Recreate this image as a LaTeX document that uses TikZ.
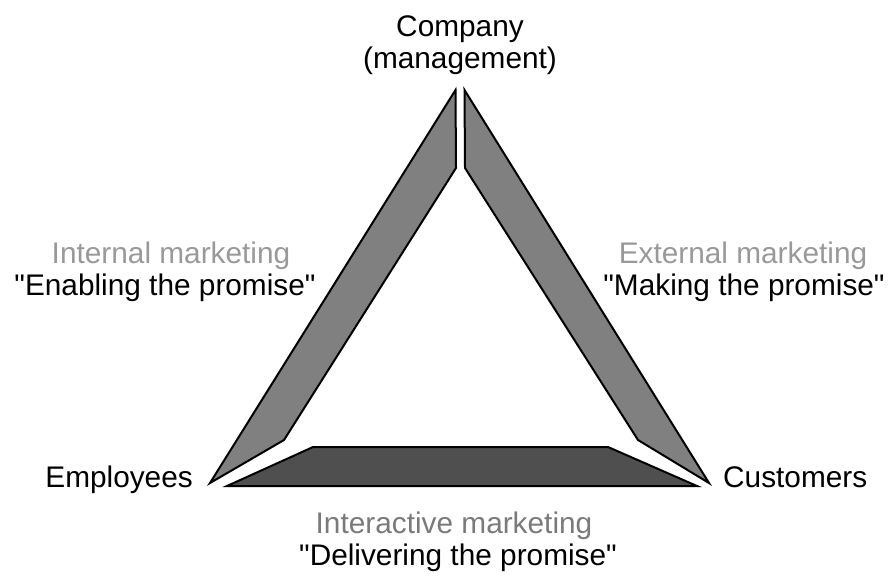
\documentclass[tikz,border=0pt]{standalone}
\usepackage{fontspec}
\setmainfont{Liberation Sans}[Ligatures=TeXOff]
\definecolor{sidefill}{HTML}{808080}
\definecolor{basefill}{HTML}{4F4F4F}
\definecolor{lightlabel}{HTML}{999999}
\definecolor{midlabel}{HTML}{7A7A7A}
\begin{document}
\begin{tikzpicture}[x=1pt,y=-1pt,
  piece/.style={draw=black,line width=2pt,line join=miter},
  lbl/.style={anchor=base,inner sep=0pt,font=\fontsize{29.8}{32}\selectfont},
  vtx/.style={anchor=base east,inner sep=0pt,font=\fontsize{29.8}{32}\selectfont},
  wtx/.style={anchor=base west,inner sep=0pt,font=\fontsize{29.8}{32}\selectfont}]
\useasboundingbox (0,0) rectangle (890,579);
% left side piece (internal marketing)
\coordinate (LA) at (455.5,90);
\coordinate (LB) at (456,168);
\coordinate (LC) at (284,440);
\coordinate (LD) at (210,483);
\filldraw[piece,fill=sidefill] (LA) -- (LB) -- (LC) -- (LD) -- cycle;
% right side piece (external marketing)
\coordinate (RA) at (464.5,90);
\coordinate (RB) at (465,168);
\coordinate (RC) at (638,440);
\coordinate (RD) at (709,483);
\filldraw[piece,fill=sidefill] (RA) -- (RB) -- (RC) -- (RD) -- cycle;
% bottom piece (interactive marketing)
\coordinate (BA) at (227,486);
\coordinate (BB) at (313,447);
\coordinate (BC) at (608,447);
\coordinate (BD) at (697,486);
\filldraw[piece,fill=basefill] (BA) -- (BB) -- (BC) -- (BD) -- cycle;
% labels
\node[lbl] (company) at (460,36.5) {Company};
\node[lbl] (mgmt) at (460,68.5) {(management)};
\node[lbl,text=lightlabel] (internal) at (171,263) {Internal marketing};
\node[lbl] (enabling) at (165,295) {"Enabling the promise"};
\node[lbl,text=lightlabel] (external) at (743,263) {External marketing};
\node[lbl] (making) at (744,295) {"Making the promise"};
\node[lbl,text=midlabel] (interactive) at (454,533) {Interactive marketing};
\node[lbl] (delivering) at (458,565) {"Delivering the promise"};
\node[vtx] (employees) at (193,487) {Employees};
\node[wtx] (customers) at (723,487) {Customers};
\end{tikzpicture}
\end{document}
